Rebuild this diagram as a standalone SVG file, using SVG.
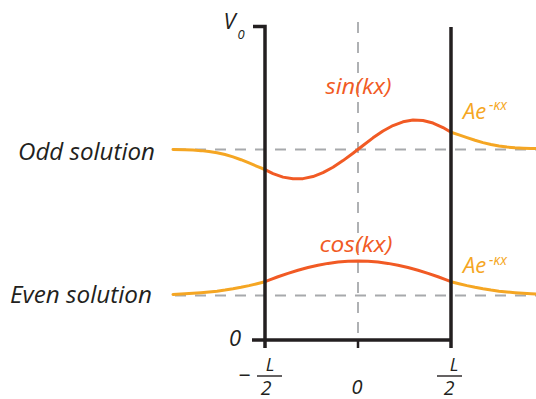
<svg xmlns="http://www.w3.org/2000/svg" width="536" height="399" viewBox="0 0 536 399">
<style>
.t{font-family:"Open Sans","Noto Sans","Liberation Sans",sans-serif;font-style:italic}
.m{text-anchor:middle}
.k{fill:#231f20}
.r{fill:#f15a24}
.y{fill:#f5a623}
.dash{stroke:#a7a9ac;stroke-width:1.8;stroke-dasharray:11 9;fill:none}
.in{stroke:#f15a24;stroke-width:3;fill:none;stroke-linejoin:round;stroke-linecap:round}
.out{stroke:#f5a623;stroke-width:3;fill:none;stroke-linejoin:round;stroke-linecap:round}
.ax{stroke:#231f20;stroke-width:3.5;fill:none}
.tick{stroke:#231f20;stroke-width:2.5;fill:none}
.bar{stroke:#231f20;stroke-width:1.4;fill:none}
</style>
<rect width="536" height="399" fill="#fff"/>
<g id="guides">
<line class="dash" x1="358" y1="22" x2="358" y2="338"/>
<line class="dash" x1="175" y1="149.5" x2="536" y2="149.5"/>
<line class="dash" x1="175" y1="295.5" x2="536" y2="295.5"/>
</g>
<g id="odd-solution">
<path class="out" d="M173,149.53 L185,149.77 L193,150.09 L201,150.63 L209,151.48 L217,152.76 L225,154.54 L233,156.86 L241,159.72 L249,162.94 L257,166.28 L265,169.5"/>
<path class="in" d="M265,169.55 L273,173.55 L283,177.11 L293,178.84 L303,178.65 L313,176.53 L323,172.63 L333,167.21 L343,160.61 L353,153.29 L363,145.52 L373,137.84 L383,131.02 L393,125.54 L403,121.8 L413,120.1 L423,120.53 L433,123.06 L443,127.53 L451,132.3"/>
<path class="out" d="M451,132.3 L459,134.87 L467,137.63 L475,140.29 L483,142.65 L491,144.56 L499,146.03 L507,147.08 L515,147.79 L523,148.23 L531,148.5 L536,148.6"/>
<text class="t r" x="325.5" y="94" font-size="22" textLength="66" lengthAdjust="spacingAndGlyphs">sin(kx)</text>
<text class="t y" x="463" y="119.3" font-size="22">Ae</text>
<text class="t y" x="489" y="110" font-size="14">-κx</text>
<text class="t k" x="18" y="160" font-size="23.5" textLength="137" lengthAdjust="spacingAndGlyphs">Odd solution</text>
</g>
<g id="even-solution">
<path class="out" d="M173,294.4 L185,293.75 L193,293.31 L201,292.74 L209,292.02 L217,291.14 L225,290.07 L233,288.8 L241,287.32 L249,285.63 L257,283.75 L265,281.7"/>
<path class="in" d="M265,281.69 L271,279.38 L278,276.77 L288,273.34 L298,270.22 L308,267.5 L318,265.21 L328,263.39 L338,262.07 L348,261.27 L358,261 L368,261.27 L378,262.07 L388,263.39 L398,265.21 L408,267.5 L418,270.22 L428,273.34 L438,276.77 L445,279.38 L451,281.69"/>
<path class="out" d="M451,281.7 L459,283.75 L467,285.63 L475,287.32 L483,288.8 L491,290.07 L499,291.14 L507,292.02 L515,292.74 L523,293.31 L531,293.75 L536,293.98"/>
<text class="t r" x="319.5" y="252" font-size="22" textLength="73" lengthAdjust="spacingAndGlyphs">cos(kx)</text>
<text class="t y" x="463" y="273.3" font-size="22">Ae</text>
<text class="t y" x="489" y="265" font-size="14">-κx</text>
<text class="t k" x="10" y="302.5" font-size="23.5" textLength="142" lengthAdjust="spacingAndGlyphs">Even solution</text>
</g>
<g id="axes">
<path class="ax" d="M253,26.5 H265 V348"/>
<line class="ax" x1="451" y1="27" x2="451" y2="348"/>
<line class="ax" x1="252" y1="340" x2="451" y2="340"/>
<line class="tick" x1="358" y1="340" x2="358" y2="348"/>
<line class="bar" x1="257" y1="376" x2="282" y2="376"/>
<line class="bar" x1="437" y1="376" x2="462" y2="376"/>
<text class="t k" x="223.5" y="29" font-size="22">V</text>
<text class="t k" x="237.5" y="38.5" font-size="13">0</text>
<text class="t k" x="229" y="345.5" font-size="22">0</text>
<text class="t k" x="244.5" y="383" font-size="22" text-anchor="middle">−</text>
<text class="t k m" x="270" y="370.5" font-size="18">L</text>
<text class="t k m" x="266" y="394.5" font-size="19.5">2</text>
<text class="t k m" x="357" y="393.5" font-size="20">0</text>
<text class="t k m" x="454" y="370.5" font-size="18">L</text>
<text class="t k m" x="449" y="394.5" font-size="19.5">2</text>
</g>
</svg>
